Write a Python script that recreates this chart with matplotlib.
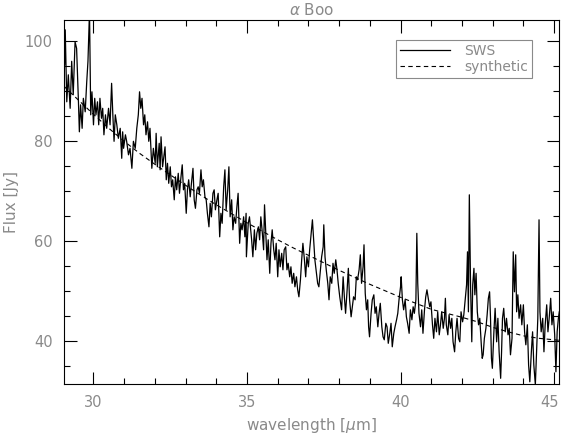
import matplotlib
matplotlib.use("Agg")
import matplotlib.pyplot as plt
import matplotlib.transforms as mtransforms
from matplotlib.ticker import MultipleLocator

wavelength = [
    29.06, 29.08, 29.13, 29.18, 29.24, 29.29, 29.34, 29.40, 29.45, 29.51,
    29.54, 29.58, 29.63, 29.67, 29.73, 29.78, 29.82, 29.87, 29.91, 29.95,
    30.00, 30.04, 30.08, 30.13, 30.17, 30.21, 30.26, 30.30, 30.34, 30.39,
    30.43, 30.49, 30.54, 30.59, 30.63, 30.67, 30.71, 30.76, 30.81, 30.87,
    30.92, 30.95, 30.98, 31.04, 31.08, 31.14, 31.19, 31.25, 31.30, 31.36,
    31.41, 31.46, 31.50, 31.54, 31.58, 31.63, 31.67, 31.71, 31.76, 31.80,
    31.84, 31.90, 31.95,
    32.01, 32.04, 32.08, 32.14, 32.17, 32.20, 32.25, 32.29, 32.33, 32.37,
    32.41, 32.45, 32.50, 32.54, 32.58, 32.63, 32.67, 32.71, 32.76, 32.80,
    32.84, 32.89, 32.93, 32.97, 33.02, 33.06, 33.10, 33.15, 33.19, 33.24,
    33.28, 33.32, 33.37, 33.41, 33.45, 33.50, 33.54, 33.58, 33.63, 33.67,
    33.71, 33.76, 33.80, 33.84, 33.89, 33.93, 33.97, 34.02, 34.06, 34.11,
    34.15, 34.19, 34.24, 34.28, 34.32, 34.37, 34.41, 34.45, 34.50, 34.54,
    34.58, 34.63, 34.67, 34.71, 34.76, 34.80, 34.84, 34.89, 34.93, 34.97,
    34.98, 35.04, 35.08,
    35.15, 35.19, 35.24, 35.28, 35.32, 35.37, 35.41, 35.45, 35.50, 35.54,
    35.57, 35.62, 35.65, 35.69, 35.74, 35.78, 35.82, 35.87, 35.91, 35.95,
    36.00, 36.04, 36.08, 36.13, 36.17, 36.21, 36.26, 36.30, 36.34, 36.39,
    36.43, 36.47, 36.52, 36.56, 36.61, 36.65, 36.69, 36.74, 36.78, 36.82,
    36.87, 36.91, 36.95, 37.00, 37.04, 37.08, 37.13, 37.17, 37.21, 37.26,
    37.30, 37.34, 37.39, 37.43, 37.48, 37.50, 37.54, 37.58, 37.63, 37.67,
    37.71, 37.76, 37.80, 37.84, 37.89, 37.93, 37.97, 38.02,
    38.08, 38.13, 38.17, 38.21, 38.26, 38.30, 38.34, 38.39, 38.43, 38.47,
    38.52, 38.56, 38.60, 38.65, 38.69, 38.73, 38.78, 38.81, 38.85, 38.89,
    38.93, 38.96, 38.99, 39.04, 39.08, 39.13, 39.17, 39.21, 39.26, 39.30,
    39.34, 39.39, 39.43, 39.47, 39.52, 39.56, 39.60, 39.65, 39.69, 39.73,
    39.78, 39.82, 39.87, 39.91, 39.95, 40.00, 40.02, 40.06, 40.10, 40.15,
    40.19, 40.23, 40.28, 40.32, 40.37, 40.41, 40.45, 40.50, 40.53, 40.56,
    40.60, 40.65, 40.69, 40.73, 40.78, 40.82, 40.86, 40.91, 40.95,
    40.99, 41.04, 41.08, 41.12, 41.17, 41.21, 41.26, 41.30, 41.34, 41.39,
    41.43, 41.46, 41.49, 41.54, 41.58, 41.63, 41.67, 41.71, 41.76, 41.80,
    41.84, 41.89, 41.93, 41.97, 42.02, 42.06, 42.10, 42.15, 42.18, 42.21,
    42.24, 42.28, 42.32, 42.35, 42.39, 42.42, 42.46, 42.50, 42.54, 42.58,
    42.63, 42.66, 42.69, 42.73, 42.78, 42.82, 42.86, 42.90, 42.93, 42.96,
    42.99, 43.04, 43.08, 43.13, 43.17, 43.21, 43.26, 43.29, 43.32, 43.36,
    43.41, 43.45, 43.50, 43.54, 43.58, 43.63, 43.67, 43.71, 43.75, 43.78,
    43.82, 43.86, 43.91,
    43.95, 44.00, 44.04, 44.08, 44.13, 44.17, 44.21, 44.26, 44.30, 44.34,
    44.39, 44.43, 44.47, 44.51, 44.54, 44.58, 44.63, 44.67, 44.71, 44.76,
    44.80, 44.84, 44.89, 44.93, 44.97, 45.02, 45.06, 45.10, 45.14, 45.17,
]

flux_sws = [
    95.3, 102.3, 87.9, 93.3, 86.6, 96.0, 89.3, 99.9, 98.6, 87.9,
    81.9, 87.3, 82.6, 88.6, 85.9, 91.9, 96.0, 106.0, 85.3, 89.9,
    83.3, 88.6, 85.3, 87.9, 83.3, 88.6, 84.6, 86.6, 81.3, 85.3,
    82.6, 86.6, 83.3, 91.6, 85.3, 80.0, 85.3, 83.3, 80.6, 82.6,
    76.6, 81.9, 78.6, 81.3, 80.0, 77.3, 78.6, 74.6, 80.0, 78.6,
    82.6, 85.3, 89.9, 86.6, 88.6, 83.3, 85.3, 81.3, 83.9, 80.0,
    82.6, 74.6, 78.6,
    75.6, 81.6, 74.9, 79.6, 74.3, 80.9, 74.9, 76.9, 78.9, 72.3,
    75.6, 71.6, 74.9, 70.9, 72.3, 68.3, 72.9, 70.3, 73.6, 69.6,
    72.3, 75.3, 70.3, 71.6, 65.6, 70.3, 72.3, 68.9, 71.6, 74.6,
    68.3, 66.6, 70.3, 70.9, 69.6, 74.3, 70.9, 72.3, 68.9, 68.3,
    65.6, 62.9, 67.6, 64.9, 69.6, 70.3, 66.3, 68.3, 69.6, 60.9,
    65.6, 63.6, 70.9, 74.3, 66.3, 70.3, 74.9, 64.9, 68.3, 62.3,
    64.9, 63.6, 66.9, 69.6, 59.6, 63.6, 62.3, 64.9, 60.9, 65.6,
    56.9, 63.6, 64.9,
    60.3, 56.9, 62.3, 58.3, 61.6, 62.9, 60.3, 64.9, 61.6, 58.3,
    67.3, 60.3, 56.3, 60.3, 53.6, 59.6, 62.3, 58.3, 56.3, 59.6,
    52.9, 58.3, 54.9, 57.6, 54.3, 58.3, 58.9, 54.3, 55.6, 52.9,
    54.9, 51.6, 53.6, 50.9, 52.9, 50.3, 48.9, 52.3, 56.3, 59.6,
    56.3, 52.9, 56.9, 54.9, 58.3, 60.9, 64.3, 60.3, 56.3, 53.6,
    51.6, 50.9, 54.3, 56.9, 58.9, 63.3, 56.9, 54.3, 51.6, 48.3,
    52.9, 51.6, 55.6, 53.6, 56.3, 54.3, 51.6, 48.9,
    46.3, 52.9, 48.9, 45.6, 50.3, 54.6, 48.3, 44.9, 46.9, 48.9,
    48.3, 52.9, 52.3, 54.3, 57.3, 51.6, 54.9, 59.3, 49.6, 46.3,
    48.3, 42.9, 40.9, 45.6, 48.3, 49.3, 45.6, 46.9, 42.9, 45.6,
    47.6, 42.9, 40.9, 40.3, 43.6, 42.9, 39.6, 41.6, 43.6, 38.9,
    41.6, 42.9, 44.3, 45.6, 48.3, 50.9, 52.9, 48.3, 46.3, 48.3,
    44.9, 43.6, 41.6, 46.3, 44.3, 46.9, 45.6, 48.3, 61.6, 51.6,
    45.6, 42.9, 46.3, 41.6, 46.3, 48.9, 50.3, 48.3, 46.9,
    47.9, 43.3, 40.6, 44.6, 41.9, 45.9, 41.3, 43.3, 45.9, 42.6,
    44.6, 48.6, 43.3, 41.3, 45.3, 42.6, 44.6, 39.9, 37.9, 41.9,
    44.6, 40.6, 39.9, 45.9, 43.9, 45.3, 47.9, 51.3, 57.9, 45.9,
    69.3, 51.3, 39.9, 51.3, 54.6, 49.3, 53.6, 45.9, 43.3, 44.6,
    39.3, 36.6, 37.3, 40.6, 42.6, 45.3, 48.6, 49.9, 44.6, 36.6,
    34.6, 41.9, 46.6, 39.9, 44.6, 37.9, 32.6, 37.9, 44.6, 46.6,
    41.9, 44.6, 41.3, 42.6, 37.3, 40.6, 57.9, 49.9, 57.3, 45.9,
    49.3, 44.6, 47.3,
    43.3, 47.3, 41.9, 39.3, 43.3, 35.3, 31.9, 37.9, 41.9, 35.3,
    31.3, 37.9, 44.6, 64.3, 45.9, 41.9, 44.6, 37.9, 43.3, 47.3,
    41.9, 44.6, 48.6, 43.3, 45.9, 41.3, 33.9, 41.9, 44.6, 45.9,
]

wavelength_syn = [
    29.04, 29.5, 30.0, 30.5, 31.0, 31.5, 32.0, 32.5, 33.0, 33.5,
    34.0, 34.5, 35.0, 35.5, 36.0, 36.5, 37.0, 37.5, 38.0, 38.5,
    39.0, 39.5, 40.0, 40.5, 41.0, 41.5, 42.0, 42.5, 43.0, 43.5,
    44.0, 44.5, 45.17,
]
flux_syn = [
    91.0, 88.3, 85.4, 82.6, 80.0, 77.6, 75.4, 73.3, 71.2, 69.2,
    67.3, 65.5, 63.7, 62.0, 60.3, 58.7, 57.2, 55.7, 54.2, 52.8,
    51.4, 50.1, 48.8, 47.6, 46.4, 45.6, 44.8, 43.9, 42.8, 41.9,
    41.1, 40.6, 40.2,
]

x_ticks = [30, 35, 40, 45]
y_ticks = [40, 60, 80, 100]
title = r"$\alpha$ Boo"
xlabel = r"wavelength [$\mu$m]"
ylabel = "Flux [Jy]"
legend_labels = ["SWS", "synthetic"]

gray = "#8a8a8a"
plt.rcParams["font.family"] = ["DejaVu Sans"]
plt.rcParams["mathtext.fontset"] = "dejavusans"

fig = plt.figure(figsize=(5.62, 4.34), dpi=100)
ax = fig.add_axes([0.1139, 0.1152, 0.8802, 0.8380])

ax.plot(wavelength, flux_sws, color="black", lw=0.9, label=legend_labels[0])
ax.plot(wavelength_syn, flux_syn, color="black", lw=0.8, ls=(0, (4, 3)),
        label=legend_labels[1])

ax.set_xlim(29.04, 45.15)
ax.set_ylim(31.46, 104.2)
ax.set_xticks(x_ticks)
ax.set_yticks(y_ticks)
ax.xaxis.set_minor_locator(MultipleLocator(1))
ax.yaxis.set_minor_locator(MultipleLocator(5))
ax.tick_params(which="both", direction="in", top=True, right=True,
               color="black", width=0.8)
ax.tick_params(which="major", length=9, labelsize=10.5, labelcolor=gray, pad=8)
ax.tick_params(which="minor", length=4.5)
for s in ax.spines.values():
    s.set_linewidth(0.8)

# keep the last x tick label inside the figure edge
fig.canvas.draw()
last = ax.get_xticklabels()[-1]
last.set_transform(last.get_transform() +
                   mtransforms.ScaledTranslation(-5 / 100, 0, fig.dpi_scale_trans))

ax.set_title(title, color=gray, fontsize=11, pad=4)
ax.set_xlabel(xlabel, color=gray, fontsize=11, labelpad=4)
ax.set_ylabel(ylabel, color=gray, fontsize=11, labelpad=4)

leg = ax.legend(loc="upper right", bbox_to_anchor=(0.946, 0.946),
                borderaxespad=0, fancybox=False, framealpha=1,
                edgecolor=gray, fontsize=10, handlelength=3.6,
                labelcolor=gray, borderpad=0.3, labelspacing=0.1,
                handletextpad=1.0)
leg.get_frame().set_linewidth(0.8)

fig.savefig("out.png", dpi=100)
